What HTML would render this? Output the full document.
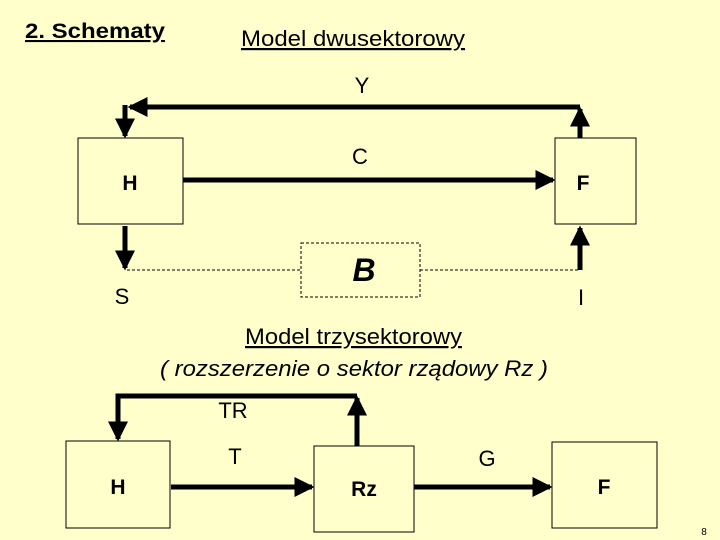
<!DOCTYPE html>
<html><head><style>
body{margin:0;background:#ffffcc;}
svg{display:block;font-family:"Liberation Sans",sans-serif;}
</style></head><body>
<svg width="720" height="540" viewBox="0 0 720 540">
<rect width="720" height="540" fill="#ffffcc"/>
<defs><marker id="a" markerWidth="4" markerHeight="4" refX="3.5" refY="2" orient="auto" markerUnits="strokeWidth"><path d="M0,0L4,2L0,4z" fill="#000"/></marker></defs>
<text x="25" y="38" font-size="21" font-weight="bold" text-decoration="underline" textLength="140" lengthAdjust="spacingAndGlyphs">2. Schematy</text>
<text x="241" y="46" font-size="22" text-decoration="underline" textLength="224" lengthAdjust="spacingAndGlyphs">Model dwusektorowy</text>
<text x="362" y="93" font-size="22" text-anchor="middle">Y</text>
<rect x="78" y="138" width="105" height="86" fill="none" stroke="#000"/>
<rect x="555" y="138" width="81" height="86" fill="none" stroke="#000"/>
<text x="130" y="190" font-size="21" font-weight="bold" text-anchor="middle">H</text>
<text x="583" y="190" font-size="21" font-weight="bold" text-anchor="middle">F</text>
<g stroke="#000" stroke-width="5" fill="none">
<path d="M580,138V109" marker-end="url(#a)"/>
<path d="M580,107H130" marker-end="url(#a)"/>
<path d="M125,105V136" marker-end="url(#a)"/>
<path d="M183,180H553" marker-end="url(#a)"/>
<path d="M125,226V268" marker-end="url(#a)"/>
<path d="M580,270V228" marker-end="url(#a)"/>
<path d="M357,396H118V439" marker-end="url(#a)"/>
<path d="M357,446V398" marker-end="url(#a)"/>
<path d="M171,487H312" marker-end="url(#a)"/>
<path d="M414,487H550" marker-end="url(#a)"/>
</g>
<text x="360" y="164" font-size="22" text-anchor="middle">C</text>
<rect x="301" y="243" width="119" height="54" fill="none" stroke="#000" stroke-dasharray="3,2"/>
<path d="M127,270H301M420,270H580" stroke="#000" stroke-dasharray="3,2"/>
<text x="364" y="281" font-size="32" font-weight="bold" font-style="italic" text-anchor="middle">B</text>
<text x="122" y="304" font-size="22" text-anchor="middle">S</text>
<text x="581" y="305" font-size="22" text-anchor="middle">I</text>
<text x="245" y="344" font-size="22" text-decoration="underline" textLength="217" lengthAdjust="spacingAndGlyphs">Model trzysektorowy</text>
<text x="160" y="376" font-size="22" font-style="italic" textLength="388" lengthAdjust="spacingAndGlyphs">( rozszerzenie o sektor rządowy Rz )</text>
<text x="233" y="418" font-size="22" text-anchor="middle">TR</text>
<text x="235" y="464" font-size="22" text-anchor="middle">T</text>
<text x="487" y="466" font-size="22" text-anchor="middle">G</text>
<rect x="66" y="441" width="104" height="87" fill="none" stroke="#000"/>
<rect x="314" y="446" width="100" height="86" fill="none" stroke="#000"/>
<rect x="552" y="442" width="105" height="86" fill="none" stroke="#000"/>
<text x="118" y="494" font-size="21" font-weight="bold" text-anchor="middle">H</text>
<text x="364" y="496" font-size="21" font-weight="bold" text-anchor="middle">Rz</text>
<text x="604" y="494" font-size="21" font-weight="bold" text-anchor="middle">F</text>
<text x="704" y="535" font-size="10" text-anchor="middle">8</text>
</svg>
</body></html>
